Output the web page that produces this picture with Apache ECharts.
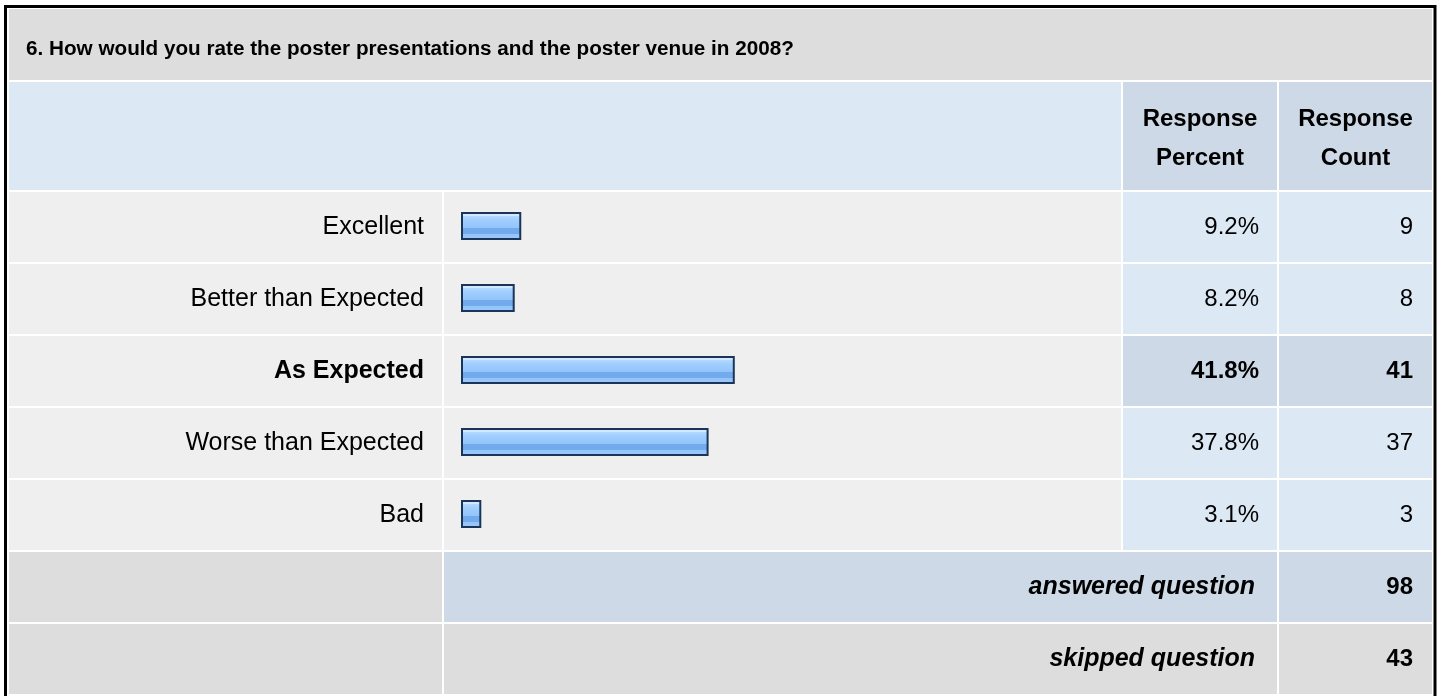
<!DOCTYPE html>
<html>
<head>
<meta charset="utf-8">
<script src="https://cdn.jsdelivr.net/npm/echarts@6/dist/echarts.min.js"></script>
<style>
html, body { margin: 0; padding: 0; background: #fff; }
#chart { width: 1440px; height: 696px; }
</style>
</head>
<body>
<div id="chart"></div>
<script>
var question = "6. How would you rate the poster presentations and the poster venue in 2008?";
var categories = ["Excellent", "Better than Expected", "As Expected", "Worse than Expected", "Bad"];
var percents = [9.2, 8.2, 41.8, 37.8, 3.1];
var counts = [9, 8, 41, 37, 3];
var highlightRow = 2;
var headerLabels = ["Response\nPercent", "Response\nCount"];
var footerLabels = ["answered question", "skipped question"];
var footerCounts = [98, 43];

var FONT = '"Liberation Sans", Arial, Helvetica, sans-serif';

// table geometry
var colLabel = [9, 442], colBar = [444, 1121], colPct = [1123, 1277], colCnt = [1279, 1432];
var rowStart = 192, rowPitch = 72, rowH = 70;

var graphic = [];
function cell(x0, x1, y0, y1, color) {
    graphic.push({ type: "rect", silent: true, z: -10,
        shape: { x: x0, y: y0, width: x1 - x0, height: y1 - y0 },
        style: { fill: color } });
}
function text(x, y, str, font, align, lh) {
    graphic.push({ type: "text", silent: true, z: 100, x: x, y: y,
        style: { text: str, font: font + " " + FONT, fill: "#000", align: align,
                 verticalAlign: "middle", lineHeight: lh || undefined } });
}

// title + header rows
cell(9, 1432, 9, 80, "#dddddd");
text(26, 49, question, "bold 20.7px", "left");
cell(9, 1121, 82, 190, "#dde8f5");
cell(colPct[0], colPct[1], 82, 190, "#cdd9e6");
cell(colCnt[0], colCnt[1], 82, 190, "#cdd9e6");
text((colPct[0] + colPct[1]) / 2, 138.5, headerLabels[0], "bold 24px", "center", 39);
text((colCnt[0] + colCnt[1]) / 2, 138.5, headerLabels[1], "bold 24px", "center", 39);

// answer rows
categories.forEach(function (c, i) {
    var y0 = rowStart + rowPitch * i, y1 = y0 + rowH, yc = y0 + rowH / 2;
    var hi = i === highlightRow;
    cell(colLabel[0], colLabel[1], y0, y1, "#efefef");
    cell(colBar[0], colBar[1], y0, y1, "#efefef");
    cell(colPct[0], colPct[1], y0, y1, hi ? "#cdd9e6" : "#dde8f5");
    cell(colCnt[0], colCnt[1], y0, y1, hi ? "#cdd9e6" : "#dde8f5");
    text(1259, yc + 0.5, percents[i].toFixed(1) + "%", (hi ? "bold " : "") + "24px", "right");
    text(1413, yc + 0.5, String(counts[i]), (hi ? "bold " : "") + "24px", "right");
});

// footer rows
footerLabels.forEach(function (f, i) {
    var y0 = rowStart + rowPitch * (categories.length + i), y1 = y0 + rowH, yc = y0 + rowH / 2;
    var col = i === 0 ? "#cdd9e6" : "#dddddd";
    cell(colLabel[0], colLabel[1], y0, y1, "#dddddd");
    cell(colBar[0], colPct[1], y0, y1, col);
    cell(colCnt[0], colCnt[1], y0, y1, col);
    text(1255, yc, f, "italic bold 25px", "right");
    text(1413, yc, String(footerCounts[i]), "bold 24px", "right");
});

// outer frame
graphic.push({ type: "rect", silent: true, z: 100,
    shape: { x: 5.5, y: 6.5, width: 1429.5, height: 700 },
    style: { fill: "none", stroke: "#000", lineWidth: 3 } });

var chart = echarts.init(document.getElementById("chart"));
chart.setOption({
    animation: false,
    graphic: graphic,
    grid: { left: 461, top: 190, height: rowPitch * categories.length, width: 655 },
    xAxis: { type: "value", min: 0, max: 100, show: false },
    yAxis: {
        type: "category",
        inverse: true,
        data: categories,
        axisLine: { show: false },
        axisTick: { show: false },
        splitLine: { show: false },
        axisLabel: {
            margin: 37,
            color: "#000",
            fontSize: 25,
            fontFamily: FONT,
            padding: [3, 0, 0, 0],
            formatter: function (v, i) {
                return i === highlightRow ? "{b|" + v + "}" : v;
            },
            rich: { b: { fontWeight: "bold", fontSize: 25, fontFamily: FONT, color: "#000" } }
        }
    },
    series: [{
        type: "bar",
        data: percents,
        barWidth: 28,
        silent: true,
        itemStyle: {
            borderColor: "#1a3558",
            borderWidth: 2,
            color: new echarts.graphic.LinearGradient(0, 0, 0, 1, [
                { offset: 0, color: "#d2e8ff" },
                { offset: 0.14, color: "#d2e8ff" },
                { offset: 0.15, color: "#b2d8ff" },
                { offset: 0.3, color: "#9fcdfe" },
                { offset: 0.56, color: "#93c5fb" },
                { offset: 0.58, color: "#72aaec" },
                { offset: 0.78, color: "#72aaec" },
                { offset: 0.8, color: "#93c4f9" },
                { offset: 1, color: "#9ccafc" }
            ])
        }
    }]
});
</script>
</body>
</html>
